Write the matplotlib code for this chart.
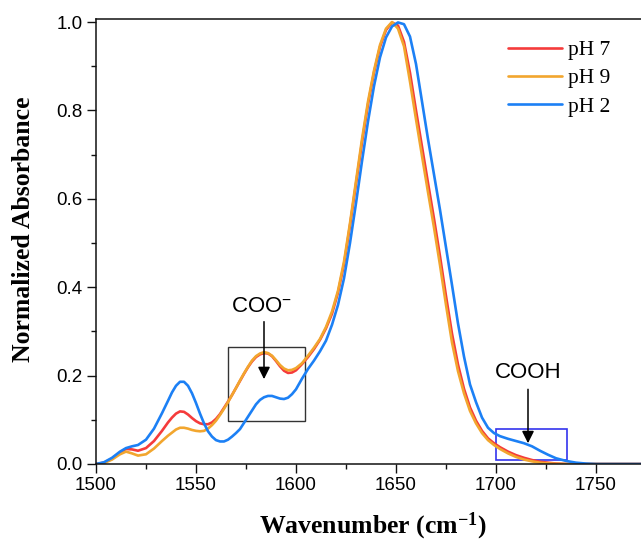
import matplotlib
matplotlib.use("Agg")
import matplotlib.pyplot as plt
from matplotlib.patches import Rectangle
from matplotlib.ticker import MultipleLocator

plt.rcParams['mathtext.fontset'] = 'custom'
plt.rcParams['mathtext.rm'] = 'Liberation Serif:bold'
plt.rcParams['mathtext.bf'] = 'Liberation Serif:bold'
plt.rcParams['mathtext.it'] = 'Liberation Serif:bold'
plt.rcParams['mathtext.sf'] = 'Liberation Sans'

# ---------------- data ----------------
wavenumber = [1500, 1504, 1508, 1512, 1515, 1518, 1521, 1525, 1529, 1533,
              1536, 1538, 1540, 1542, 1544, 1546, 1548, 1550, 1552, 1554, 1556,
              1558, 1560, 1562, 1564, 1566, 1568, 1570, 1572, 1574, 1576, 1578,
              1580, 1582, 1584, 1586, 1588, 1590, 1592, 1594, 1596, 1598, 1600,
              1603, 1606, 1609, 1612, 1615, 1618, 1621, 1624, 1627, 1630, 1633,
              1636, 1639, 1642, 1645, 1648, 1651, 1654, 1657, 1660, 1663, 1666,
              1669, 1672, 1675, 1678, 1681, 1684, 1687, 1690, 1693, 1696, 1699,
              1702, 1706, 1710, 1714, 1718, 1722, 1726, 1730,
              1735, 1740, 1745, 1750, 1760, 1775]

ph7 = [0.000, 0.003, 0.012, 0.026, 0.034, 0.033, 0.030, 0.036, 0.052, 0.075,
       0.094, 0.105, 0.114, 0.119, 0.118, 0.112, 0.104, 0.097, 0.092, 0.090, 0.090,
       0.094, 0.102, 0.113, 0.127, 0.141, 0.156, 0.172, 0.188, 0.204, 0.219, 0.232,
       0.242, 0.248, 0.251, 0.250, 0.244, 0.233, 0.221, 0.211, 0.206, 0.207, 0.212,
       0.226, 0.242, 0.260, 0.281, 0.307, 0.340, 0.388, 0.452, 0.540, 0.634, 0.728,
       0.814, 0.886, 0.944, 0.982, 0.999, 0.992, 0.955, 0.885, 0.800, 0.718, 0.636,
       0.555, 0.470, 0.380, 0.295, 0.225, 0.170, 0.128, 0.098, 0.075, 0.058, 0.047,
       0.038, 0.028, 0.020, 0.014, 0.009, 0.005, 0.003, 0.001,
       0.000, 0.000, 0.000, 0.000, 0.000, 0.000]

ph9 = [0.000, 0.002, 0.010, 0.022, 0.028, 0.024, 0.019, 0.022, 0.035, 0.052,
       0.064, 0.071, 0.078, 0.082, 0.082, 0.080, 0.077, 0.075, 0.074, 0.075, 0.080,
       0.088, 0.098, 0.111, 0.125, 0.140, 0.156, 0.172, 0.189, 0.205, 0.220, 0.234,
       0.244, 0.250, 0.253, 0.251, 0.245, 0.235, 0.224, 0.216, 0.212, 0.213, 0.217,
       0.228, 0.245, 0.263, 0.283, 0.310, 0.345, 0.392, 0.458, 0.545, 0.640, 0.735,
       0.820, 0.890, 0.948, 0.985, 1.000, 0.985, 0.945, 0.865, 0.780, 0.697, 0.615,
       0.535, 0.450, 0.360, 0.275, 0.210, 0.160, 0.120, 0.092, 0.070, 0.054, 0.043,
       0.034, 0.024, 0.016, 0.010, 0.006, 0.003, 0.0015, 0.0005,
       0.000, 0.000, 0.000, 0.000, 0.000, 0.000]

ph2 = [0.000, 0.004, 0.014, 0.028, 0.036, 0.040, 0.043, 0.055, 0.080, 0.115,
       0.143, 0.162, 0.177, 0.186, 0.186, 0.177, 0.160, 0.138, 0.114, 0.092, 0.074,
       0.062, 0.054, 0.051, 0.051, 0.055, 0.062, 0.070, 0.079, 0.093, 0.107, 0.121,
       0.135, 0.145, 0.151, 0.154, 0.154, 0.151, 0.148, 0.147, 0.150, 0.158, 0.169,
       0.193, 0.215, 0.234, 0.255, 0.279, 0.315, 0.360, 0.420, 0.500, 0.590, 0.685,
       0.775, 0.855, 0.920, 0.965, 0.990, 0.999, 0.995, 0.967, 0.905, 0.820, 0.735,
       0.655, 0.575, 0.490, 0.405, 0.318, 0.243, 0.180, 0.140, 0.105, 0.082, 0.070,
       0.063, 0.057, 0.052, 0.047, 0.040, 0.030, 0.021, 0.013,
       0.007, 0.003, 0.001, 0.000, 0.000, 0.000]

series_labels = ['pH 7', 'pH 9', 'pH 2']
series_colors = ['#F53B3B', '#F2A62E', '#1C80F5']

x_ticks = [1500, 1550, 1600, 1650, 1700, 1750]
y_ticks = [0.0, 0.2, 0.4, 0.6, 0.8, 1.0]

# ---------------- figure ----------------
W, H = 641, 544
fig = plt.figure(figsize=(W / 100, H / 100), dpi=100)
ax_l, ax_r, ax_t, ax_b = 96, 641, 19, 464
ax = fig.add_axes([ax_l / W, 1 - ax_b / H, (ax_r - ax_l) / W, (ax_b - ax_t) / H])

for ys, lab, col in zip([ph7, ph9, ph2], series_labels, series_colors):
    ax.plot(wavenumber, ys, color=col, lw=1.9, label=lab,
            solid_capstyle='round', solid_joinstyle='round')

ax.set_xlim(1500, 1772.5)
ax.set_ylim(0, 1.0068)
ax.set_xticks(x_ticks)
ax.set_yticks(y_ticks)
ax.xaxis.set_minor_locator(MultipleLocator(25))
ax.yaxis.set_minor_locator(MultipleLocator(0.1))
ax.set_yticklabels([f'{v:.1f}' for v in y_ticks])

for s in ['left', 'bottom', 'top']:
    ax.spines[s].set_linewidth(1.1)
    ax.spines[s].set_color('#111111')
ax.spines['right'].set_visible(False)

ax.tick_params(which='major', direction='out', length=6.5, width=1.0,
               labelsize=13.5, color='#111111', top=False, right=False, pad=3)
ax.tick_params(which='minor', direction='out', length=3.5, width=1.0,
               color='#111111', top=False, right=False)
for lbl in ax.get_xticklabels() + ax.get_yticklabels():
    lbl.set_fontfamily('Liberation Sans')

ax.set_xlabel(r'Wavenumber (cm$^{\mathbf{-1}}$)', fontfamily='Liberation Serif',
              fontweight='bold', fontsize=18.5)
ax.set_ylabel('Normalized Absorbance', fontfamily='Liberation Serif',
              fontweight='bold', fontsize=18.5)
ax.xaxis.label.set_va('center')
ax.yaxis.label.set_va('center')
ax.xaxis.set_label_coords((373 - ax_l) / (ax_r - ax_l), (ax_b - 526) / (ax_b - ax_t))
ax.yaxis.set_label_coords((24 - ax_l) / (ax_r - ax_l), (ax_b - 229) / (ax_b - ax_t))

# annotation boxes
ax.add_patch(Rectangle((1566, 0.098), 38.6, 0.167, fill=False, ec='#333333', lw=1.0))
ax.add_patch(Rectangle((1700, 0.009), 35.7, 0.070, fill=False, ec='#3333EE', lw=1.2))

ax.text(1582.8, 0.356, r'COO$^{\mathsf{-}}$', fontfamily='Liberation Sans', fontsize=16,
        ha='center', va='center')
ax.annotate('', xy=(1584, 0.192), xytext=(1584, 0.322),
            arrowprops=dict(arrowstyle='-|>', color='black', lw=1.1,
                            mutation_scale=18, shrinkA=0, shrinkB=0))
ax.text(1716, 0.207, 'COOH', fontfamily='Liberation Sans', fontsize=16,
        ha='center', va='center')
ax.annotate('', xy=(1716, 0.047), xytext=(1716, 0.169),
            arrowprops=dict(arrowstyle='-|>', color='black', lw=1.1,
                            mutation_scale=18, shrinkA=0, shrinkB=0))

leg = fig.legend(loc='upper left', bbox_to_anchor=(508 / W, 1 - 40 / H),
                 frameon=False, prop={'family': 'Liberation Serif', 'size': 15.5},
                 handlelength=2.5, handletextpad=0.3, labelspacing=0.385,
                 borderpad=0, borderaxespad=0)

fig.savefig('out.png', dpi=100)
